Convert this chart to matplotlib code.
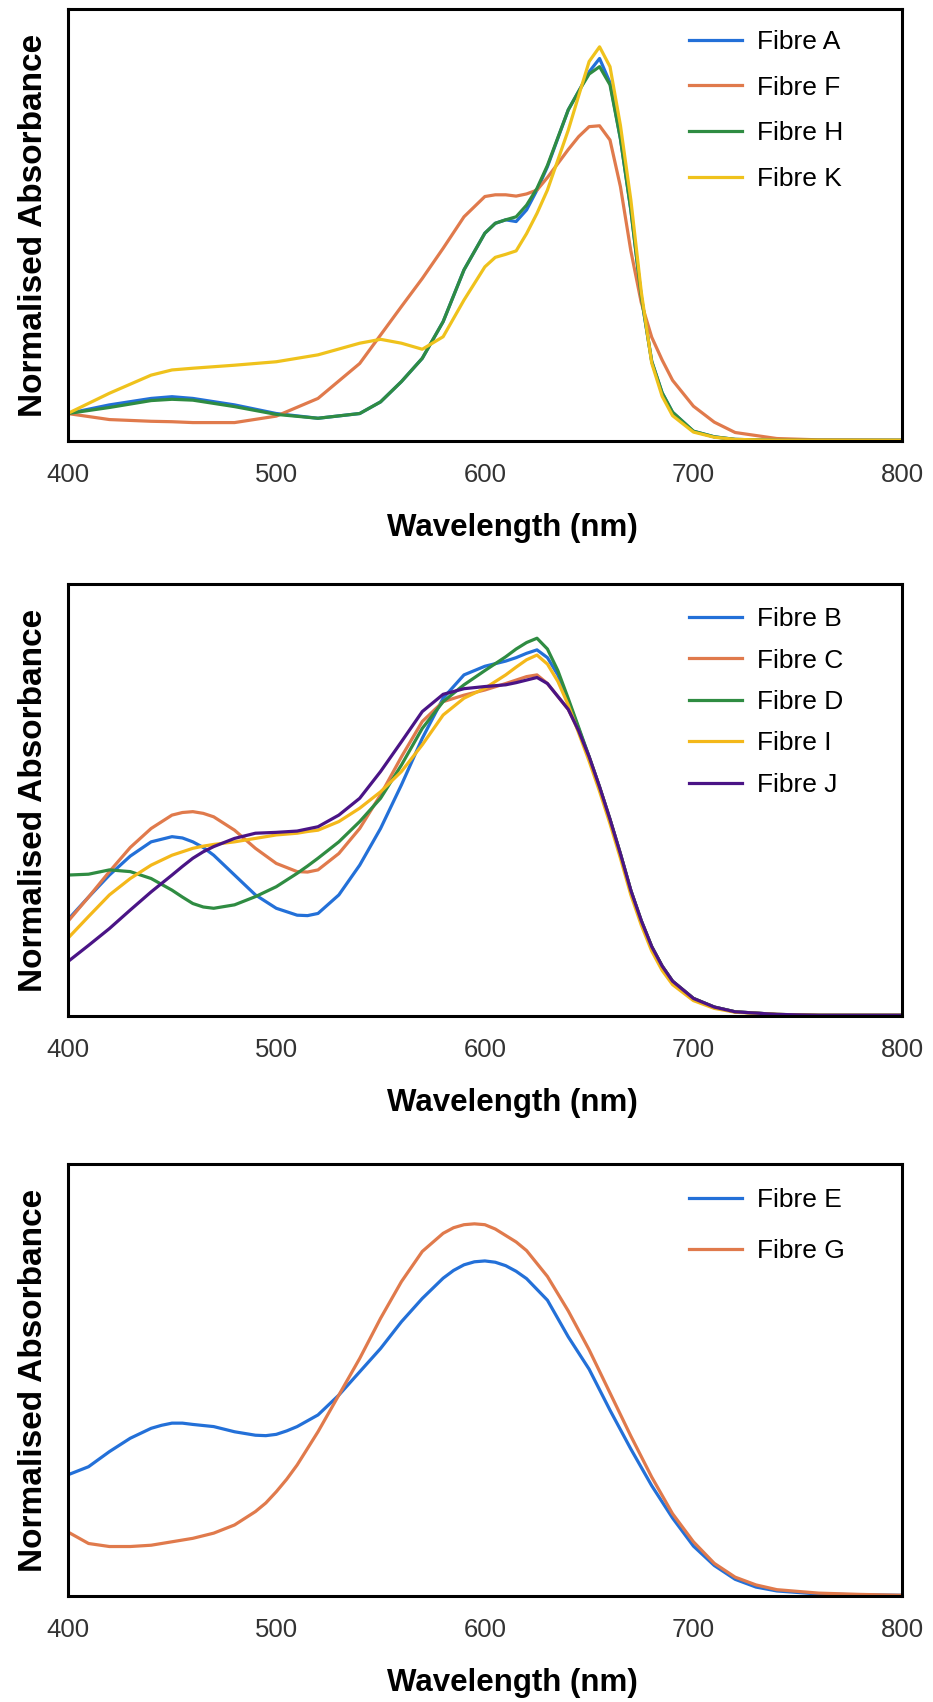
import matplotlib
matplotlib.use("Agg")
import matplotlib.pyplot as plt

plt.rcParams['font.family'] = ['Liberation Sans', 'DejaVu Sans']

# ---- top panel: fibres A, F, H, K
wl_top = [400, 420, 440, 450, 460, 480, 500, 520, 540, 550, 560, 570, 580, 590,
          600, 605, 610, 615, 620, 625, 630, 640, 645, 650, 655, 660, 665, 670,
          675, 680, 685, 690, 700, 710, 720, 740, 760, 800]
fibre_a = [.063, .083, .098, .102, .098, .083, .063, .052, .063, .090, .137, .191, .276, .396,
           .481, .504, .512, .508, .535, .581, .635, .767, .810, .855, .886, .830, .700, .535,
           .334, .184, .111, .066, .022, .009, .003, .001, .001, .001]
fibre_f = [.063, .049, .045, .044, .042, .042, .057, .098, .179, .245, .311, .376, .446, .519,
           .566, .570, .570, .567, .572, .581, .610, .675, .705, .728, .730, .697, .589, .440,
           .320, .240, .187, .140, .080, .043, .019, .005, .002, .001]
fibre_h = [.063, .077, .093, .096, .094, .079, .061, .052, .063, .090, .137, .191, .276, .396,
           .481, .504, .512, .519, .546, .585, .638, .767, .810, .850, .867, .825, .700, .535,
           .334, .184, .111, .066, .022, .009, .003, .001, .001, .001]
fibre_k = [.063, .110, .152, .164, .168, .175, .183, .199, .226, .235, .226, .212, .241, .326,
           .403, .425, .432, .440, .480, .527, .581, .720, .800, .879, .913, .867, .731, .558,
           .345, .180, .103, .058, .020, .008, .003, .001, .001, .001]

# ---- middle panel: fibres B, C, D, I, J
wl_mid = [400, 410, 420, 430, 440, 450, 455, 460, 465, 470, 480, 490, 500, 510, 515,
          520, 530, 540, 550, 560, 570, 580, 590, 600, 610, 615, 620, 625, 630, 635,
          640, 645, 650, 655, 660, 665, 670, 675, 680, 685, 690, 700, 710, 720, 740,
          760, 780, 800]
fibre_b = [.222, .275, .326, .370, .403, .415, .412, .403, .390, .372, .326, .280, .249, .233, .232,
           .237, .280, .349, .434, .535, .643, .736, .790, .810, .822, .830, .840, .848, .830, .790,
           .730, .665, .600, .530, .455, .375, .290, .220, .160, .115, .080, .040, .020, .009, .003,
           .001, .001, .001]
fibre_c = [.218, .275, .334, .390, .434, .465, .471, .473, .469, .461, .430, .388, .353, .334, .333,
           .338, .376, .434, .512, .600, .682, .728, .743, .755, .770, .778, .786, .790, .770, .740,
           .710, .660, .600, .530, .455, .375, .290, .220, .160, .115, .080, .040, .020, .009, .003,
           .001, .001, .001]
fibre_d = [.326, .328, .338, .334, .318, .291, .275, .260, .252, .249, .257, .276, .299, .330, .347,
           .365, .403, .450, .504, .581, .666, .728, .767, .800, .832, .850, .865, .875, .850, .800,
           .735, .668, .600, .530, .455, .375, .290, .220, .160, .115, .080, .040, .020, .009, .003,
           .001, .001, .001]
fibre_i = [.179, .230, .280, .318, .349, .372, .380, .388, .393, .397, .403, .411, .419, .423, .427,
           .430, .450, .481, .519, .566, .628, .697, .736, .759, .790, .808, .825, .836, .815, .775,
           .720, .655, .590, .520, .445, .365, .280, .210, .150, .105, .072, .035, .017, .008, .003,
           .001, .001, .001]
fibre_j = [.125, .163, .202, .245, .287, .326, .346, .365, .380, .392, .411, .423, .425, .428, .433,
           .438, .465, .504, .566, .635, .705, .745, .758, .763, .767, .772, .778, .784, .770, .740,
           .710, .660, .600, .530, .455, .375, .290, .220, .160, .115, .080, .040, .020, .009, .003,
           .001, .001, .001]

# ---- bottom panel: fibres E, G
wl_bot = [400, 410, 420, 430, 440, 445, 450, 455, 460, 470, 480, 490, 495, 500, 505,
          510, 520, 530, 540, 550, 560, 570, 580, 585, 590, 595, 600, 605, 610, 615,
          620, 630, 640, 650, 660, 670, 680, 690, 700, 710, 720, 730, 740, 760, 780, 800]
fibre_e = [.280, .299, .334, .365, .388, .395, .400, .400, .397, .392, .380, .372, .371, .374, .382,
           .392, .419, .465, .519, .573, .635, .689, .736, .754, .767, .774, .776, .773, .765, .752,
           .735, .685, .600, .525, .430, .340, .255, .180, .115, .070, .038, .020, .011, .004, .002,
           .001]
fibre_g = [.148, .121, .114, .114, .117, .121, .125, .129, .133, .145, .164, .195, .215, .241, .270,
           .303, .380, .465, .550, .643, .728, .798, .840, .853, .860, .862, .860, .850, .835, .820,
           .800, .740, .660, .570, .470, .370, .275, .190, .125, .075, .043, .025, .014, .006, .003,
           .001]

xticks = [400, 500, 600, 700, 800]

BLUE = '#2370d8'
ORANGE = '#e07a4c'
GREEN = '#2f8c42'
YELLOW = '#efc21c'
GOLD = '#f4b81a'
PURPLE = '#4a1486'

# (x values, [(y values, label, colour)], legend row spacing, legend top)
panels = [
    (wl_top, [(fibre_a, 'Fibre A', BLUE), (fibre_f, 'Fibre F', ORANGE),
              (fibre_h, 'Fibre H', GREEN), (fibre_k, 'Fibre K', YELLOW)], 0.82, 0.952),
    (wl_mid, [(fibre_b, 'Fibre B', BLUE), (fibre_c, 'Fibre C', ORANGE),
              (fibre_d, 'Fibre D', GREEN), (fibre_i, 'Fibre I', GOLD),
              (fibre_j, 'Fibre J', PURPLE)], 0.66, 0.947),
    (wl_bot, [(fibre_e, 'Fibre E', BLUE), (fibre_g, 'Fibre G', ORANGE)], 1.02, 0.945),
]

W, H = 933, 1702
fig = plt.figure(figsize=(W / 100, H / 100), dpi=100)

tops = [9.3, 584.3, 1164.3]   # axes top edge in pixels
ax_h = 431.4
for (wl, series, spacing, leg_top), top in zip(panels, tops):
    ax = fig.add_axes([67.7 / W, 1 - (top + ax_h) / H, 834.3 / W, ax_h / H])
    for vals, name, col in series:
        ax.plot(wl, vals, color=col, lw=2.3, label=name, solid_joinstyle='round')
    ax.set_xlim(400, 800)
    ax.set_ylim(0, 1)
    ax.set_xticks(xticks)
    ax.set_yticks([])
    ax.tick_params(axis='x', length=0, pad=16, labelsize=18.5, labelcolor='#333333')
    for s in ax.spines.values():
        s.set_linewidth(2.2)
        s.set_color('black')
    ax.set_xlabel('Wavelength (nm)', fontsize=22.5, fontweight='bold')
    ax.xaxis.set_label_coords(0.5325, -0.168)
    ax.set_ylabel('Normalised Absorbance', fontsize=24, fontweight='bold')
    ax.yaxis.set_label_coords(-0.022, 0.5)
    ax.legend(loc='upper left', bbox_to_anchor=(0.745, leg_top), frameon=False,
              fontsize=19, handlelength=2.0, handletextpad=0.55,
              labelspacing=spacing, borderpad=0, borderaxespad=0)

fig.savefig('out.png', dpi=100)
